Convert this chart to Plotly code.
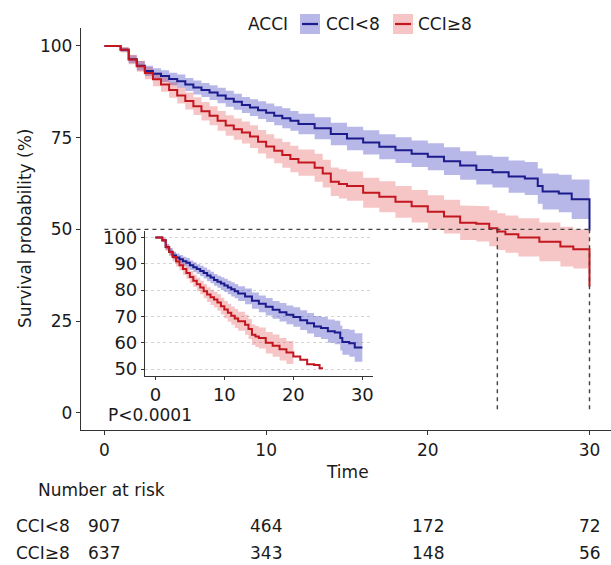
import plotly.graph_objects as go

# ---------------- data ----------------
group_names = ["CCI<8", "CCI\u22658"]
legend_title = "ACCI"

blue_t = [0, 1.0, 1.5, 2.0, 2.5, 3.0, 3.5, 4.0, 4.5, 5.0, 5.5, 6.0, 6.5, 7.0, 7.5, 8.0, 8.5,
          9.0, 9.5, 10.0, 10.5, 11.0, 11.5, 12.0, 13.0, 14.0, 15.0, 16.0, 17.0, 18.0, 19.0,
          20.0, 21.0, 22.0, 23.0, 24.0, 25.0, 26.0, 26.8, 27.1, 28.1, 28.9, 30.0]
blue_s = [100, 99.0, 96.4, 94.6, 93.2, 92.4, 91.8, 91.0, 90.4, 89.5, 88.7, 88.0, 87.3, 86.5,
          85.6, 84.8, 83.9, 83.2, 82.5, 81.8, 81.0, 80.3, 79.6, 78.7, 77.6, 76.0, 74.8, 73.7,
          72.5, 71.6, 70.6, 69.8, 68.6, 67.4, 66.2, 65.6, 64.4, 63.9, 61.8, 60.3, 59.8, 58.2, 49.7]
blue_lo = [100, 98.4, 95.3, 93.3, 91.8, 90.9, 90.2, 89.3, 88.6, 87.7, 86.8, 86.1, 85.3, 84.4,
           83.4, 82.6, 81.7, 80.9, 80.1, 79.3, 78.4, 77.6, 76.9, 75.9, 74.6, 72.9, 71.6, 70.4,
           69.1, 68.1, 67.0, 66.1, 64.8, 63.5, 62.2, 61.4, 60.0, 59.4, 57.0, 55.4, 54.7, 52.8, 52.8]
blue_hi = [100, 99.6, 97.5, 95.9, 94.6, 93.9, 93.4, 92.7, 92.2, 91.3, 90.6, 89.9, 89.3, 88.6,
           87.8, 87.0, 86.1, 85.5, 84.9, 84.3, 83.6, 83.0, 82.3, 81.5, 80.6, 79.1, 78.0, 77.0,
           75.9, 75.1, 74.2, 73.5, 72.4, 71.3, 70.2, 69.8, 68.8, 68.4, 66.6, 65.2, 64.9, 63.6, 63.6]

red_t = [0, 1.0, 1.5, 2.0, 2.5, 3.0, 3.5, 4.0, 4.5, 5.0, 5.5, 6.0, 6.5, 7.0, 7.5, 8.0, 8.5,
         9.0, 9.5, 10.0, 10.5, 11.0, 11.5, 12.0, 13.0, 13.5, 14.0, 14.5, 15.0, 16.0, 17.0,
         18.0, 19.0, 20.0, 21.0, 22.0, 23.0, 23.8, 24.3, 24.8, 25.6, 26.9, 28.2, 29.0, 30.0]
red_s = [100, 99.0, 96.3, 94.5, 92.6, 90.9, 89.5, 88.0, 86.5, 85.0, 83.6, 82.2, 81.0, 79.6,
         78.3, 77.3, 76.4, 75.3, 73.9, 72.6, 71.4, 70.3, 69.2, 68.2, 66.8, 65.2, 63.0, 62.4,
         61.8, 60.0, 58.9, 57.5, 56.3, 54.8, 53.5, 51.8, 51.5, 50.3, 49.4, 48.7, 47.8, 46.6,
         45.3, 44.6, 34.4]
red_lo = [100, 98.2, 95.0, 93.0, 90.9, 89.0, 87.5, 85.9, 84.3, 82.7, 81.2, 79.7, 78.4, 76.9,
          75.5, 74.4, 73.4, 72.2, 70.7, 69.3, 68.0, 66.8, 65.6, 64.6, 63.0, 61.4, 59.1, 58.4,
          57.8, 55.9, 54.7, 53.2, 51.9, 49.9, 48.9, 47.1, 46.7, 45.4, 44.4, 43.6, 42.6, 41.3,
          39.9, 39.3, 39.3]
red_hi = [100, 99.7, 97.6, 96.0, 94.3, 92.8, 91.5, 90.1, 88.7, 87.3, 86.0, 84.7, 83.6, 82.3,
          81.1, 80.2, 79.4, 78.4, 77.1, 75.9, 74.8, 73.8, 72.8, 71.8, 70.6, 69.0, 66.9, 66.4,
          65.8, 64.1, 63.1, 61.8, 60.7, 59.3, 58.1, 56.5, 56.3, 55.2, 54.4, 53.8, 53.0, 51.9,
          50.7, 50.0, 50.0]

risk_times = [0, 10, 20, 30]
risk_blue = [907, 464, 172, 72]
risk_red = [637, 343, 148, 56]

x_ticks = [0, 10, 20, 30]
y_ticks = [0, 25, 50, 75, 100]
inset_y_ticks = [50, 60, 70, 80, 90, 100]
p_text = "P<0.0001"

# ---------------- styles ----------------
BLUE = "#1B1B8C"
RED = "#C3161E"
BLUE_FILL = "rgba(55,55,190,0.36)"
RED_FILL = "rgba(220,45,45,0.27)"
FONT = "DejaVu Sans"
TXT = "#1a1a1a"
AX = "#333333"

W, H = 611, 565
ML, MR, MT, MB = 81, 0, 28, 135
PW, PH = W - ML - MR, H - MT - MB


def pxx(px):
    return (px - ML) / PW


def pxy(py):
    return (H - MB - py) / PH


def steps(t, v):
    xs, ys = [], []
    for i in range(len(t)):
        if i > 0:
            xs.append(t[i])
            ys.append(v[i - 1])
        xs.append(t[i])
        ys.append(v[i])
    return xs, ys


def ribbon(t, lo, hi):
    xu, yu = steps(t, hi)
    xl, yl = steps(t, lo)
    return xu + xl[::-1], yu + yl[::-1]


def keep(t, vals, ok):
    """keep rows in range; extend to the first removed time (like a clipped step)."""
    kt, kv = [], []
    for i in range(len(t)):
        if ok[i]:
            kt.append(t[i])
            kv.append([v[i] for v in vals])
        else:
            if kt:
                kt.append(t[i])
                kv.append(kv[-1])
            break
    return kt, [list(c) for c in zip(*kv)]


def median(t, s):
    for ti, si in zip(t, s):
        if si <= 50:
            return ti
    return None


def txt(text, x, y, xref="paper", yref="paper", xanchor="left", size=17, **kw):
    return dict(x=x, y=y, xref=xref, yref=yref, text=text, showarrow=False,
                xanchor=xanchor, yanchor="middle",
                font=dict(family=FONT, size=size, color=TXT), **kw)


fig = go.Figure()

series = [
    (blue_t, blue_s, blue_lo, blue_hi, BLUE, BLUE_FILL),
    (red_t, red_s, red_lo, red_hi, RED, RED_FILL),
]

# main ribbons
for t, s, lo, hi, col, fcol in series:
    rx, ry = ribbon(t, lo, hi)
    fig.add_trace(go.Scatter(x=rx, y=ry, fill="toself", fillcolor=fcol, line=dict(width=0),
                             mode="lines", hoverinfo="skip", showlegend=False))
# main lines
for t, s, lo, hi, col, fcol in series:
    fig.add_trace(go.Scatter(x=t, y=s, mode="lines", line=dict(color=col, width=2, shape="hv"),
                             showlegend=False))

# median dashed lines
meds = [median(blue_t, blue_s), median(red_t, red_s)]
dash = dict(color="#444444", width=1.4, dash="4px,4px")
fig.add_trace(go.Scatter(x=[0, max(meds)], y=[50, 50], mode="lines", line=dash, showlegend=False))
for m in meds:
    fig.add_trace(go.Scatter(x=[m, m], y=[50, 0], mode="lines", line=dash, showlegend=False))

# inset: same data, limited to 50-100
for t, s, lo, hi, col, fcol in series:
    kt, (klo, khi) = keep(t, [lo, hi], [l >= 50 for l in lo])
    rx, ry = ribbon(kt, klo, khi)
    fig.add_trace(go.Scatter(x=rx, y=ry, fill="toself", fillcolor=fcol, line=dict(width=0),
                             mode="lines", hoverinfo="skip", showlegend=False,
                             xaxis="x2", yaxis="y2"))
for t, s, lo, hi, col, fcol in series:
    kt, (ks,) = keep(t, [s], [v >= 50 for v in s])
    fig.add_trace(go.Scatter(x=kt, y=ks, mode="lines", line=dict(color=col, width=2, shape="hv"),
                             showlegend=False, xaxis="x2", yaxis="y2"))

annotations = []
annotations.append(txt(p_text, 0.1, -0.7, xref="x", yref="y"))
annotations.append(txt("Time", pxx(347), pxy(472), xanchor="center"))
annotations.append(txt("Survival probability (%)", pxx(25), pxy(229), xanchor="center",
                       textangle=-90))
annotations.append(txt("Number at risk", pxx(36), pxy(490)))
for name, vals, py in [(group_names[0], risk_blue, 526), (group_names[1], risk_red, 553)]:
    annotations.append(txt(name, pxx(14), pxy(py)))
    for tt, v in zip(risk_times, vals):
        annotations.append(txt(str(v), tt, pxy(py), xref="x", xanchor="center"))

# legend (manual, ggplot-like keys)
annotations.append(txt(legend_title, pxx(246), pxy(24)))
shapes = []
for (kx, tx), name, col, fcol in [((300, 324), group_names[0], BLUE, BLUE_FILL),
                                   ((393, 416), group_names[1], RED, RED_FILL)]:
    shapes.append(dict(type="rect", xref="paper", yref="paper", x0=pxx(kx), x1=pxx(kx + 20),
                       y0=pxy(34), y1=pxy(14), fillcolor=fcol, line=dict(width=0)))
    shapes.append(dict(type="line", xref="paper", yref="paper", x0=pxx(kx + 2), x1=pxx(kx + 18),
                       y0=pxy(24), y1=pxy(24), line=dict(color=col, width=2.2)))
    annotations.append(txt(name, pxx(tx), pxy(24)))

fig.update_layout(
    width=W, height=H,
    margin=dict(l=ML, r=MR, t=MT, b=MB, pad=0),
    paper_bgcolor="white", plot_bgcolor="white",
    showlegend=False, hovermode=False,
    annotations=annotations, shapes=shapes,
    xaxis=dict(range=[-1.45, 31.33], tickvals=x_ticks, showgrid=False, zeroline=False,
               showline=True, linecolor=AX, linewidth=1.3, ticks="outside", ticklen=4,
               tickcolor=AX, tickwidth=1, tickfont=dict(family=FONT, size=17, color=TXT),
               domain=[0, 1]),
    yaxis=dict(range=[-4.7, 104.9], tickvals=y_ticks, showgrid=False, zeroline=False,
               showline=True, linecolor=AX, linewidth=1.3, ticks="outside", ticklen=4,
               tickcolor=AX, tickwidth=1, tickfont=dict(family=FONT, size=17, color=TXT),
               domain=[0, 1]),
    xaxis2=dict(range=[-1.5, 31.5], tickvals=x_ticks, showgrid=False, zeroline=False,
                showline=True, linecolor=AX, linewidth=1.2, ticks="outside", ticklen=3,
                tickcolor=AX, tickwidth=1, tickfont=dict(family=FONT, size=18, color=TXT),
                domain=[pxx(145), pxx(372.7)], anchor="y2"),
    yaxis2=dict(range=[47.5, 102.5], tickvals=inset_y_ticks, showgrid=True, griddash="dot",
                gridcolor="#d4d4d4", gridwidth=1, zeroline=False,
                showline=True, linecolor=AX, linewidth=1.2, ticks="outside", ticklen=3,
                tickcolor=AX, tickwidth=1, tickfont=dict(family=FONT, size=18, color=TXT),
                domain=[pxy(375.6), pxy(231)], anchor="x2"),
)

fig.write_html("out.html", config={"displayModeBar": False},
               post_script="document.body.style.margin='0px';")
